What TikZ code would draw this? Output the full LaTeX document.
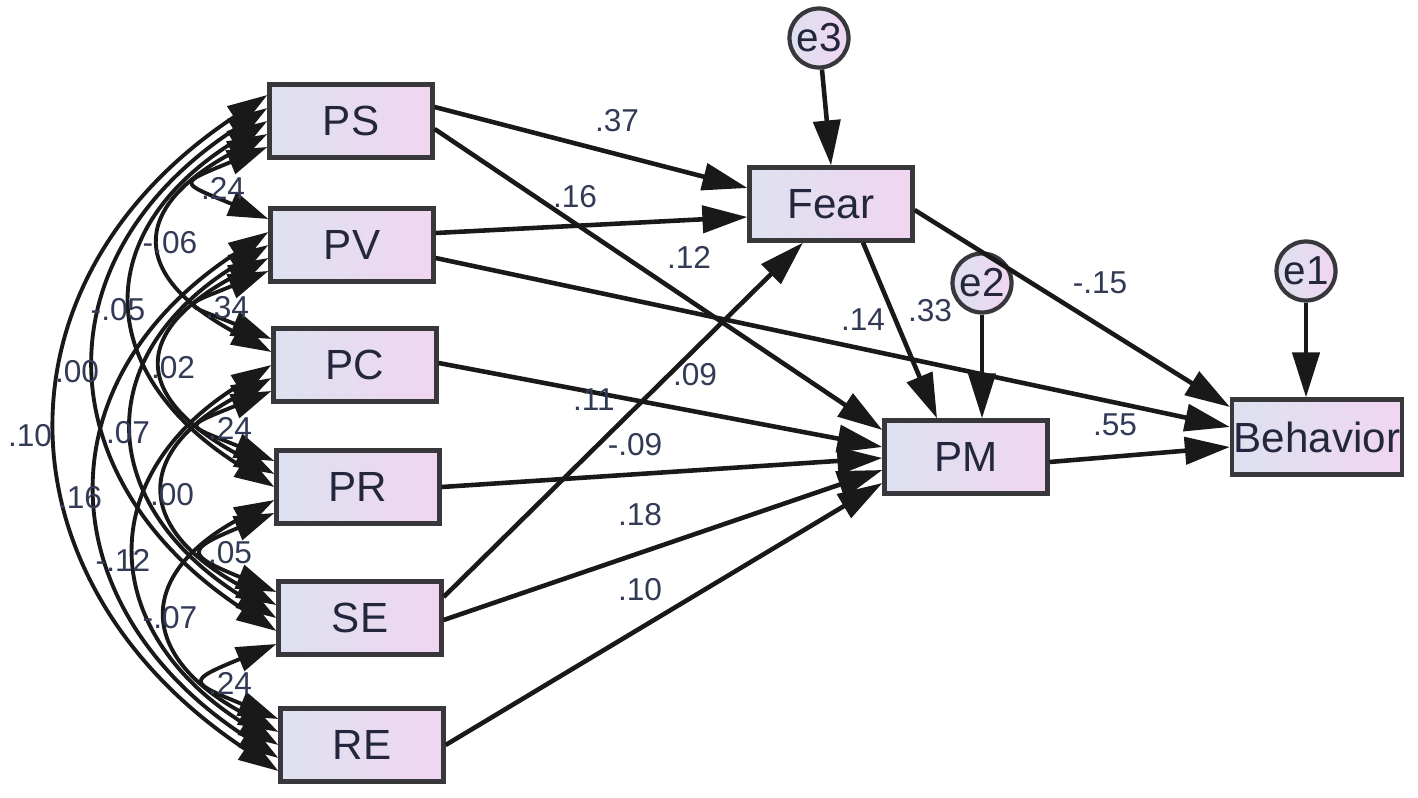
\documentclass[tikz,border=0pt]{standalone}
\usepackage{fontspec}
\setmainfont{Liberation Sans}
\usepackage{xcolor}
\usepackage{tikz}
\usetikzlibrary{arrows.meta, positioning, calc}
\definecolor{boxleft}{RGB}{221,225,240}
\definecolor{boxright}{RGB}{241,214,241}
\definecolor{edgegray}{RGB}{55,55,60}
\definecolor{txtnavy}{RGB}{35,38,60}
\definecolor{coefcol}{RGB}{50,58,85}
\tikzstyle{var} = [rectangle, minimum width=1.63cm, minimum height=0.73cm, inner sep=0pt, draw=edgegray, line width=1.2pt, left color=boxleft, right color=boxright, text=txtnavy, font=\fontsize{12}{14}\selectfont]
\tikzstyle{err} = [circle, minimum size=0.59cm, inner sep=0pt, draw=edgegray, line width=1.2pt, left color=boxleft, right color=boxright, text=txtnavy, font=\fontsize{11.5}{13}\selectfont]
\tikzstyle{reg} = [line width=1.3pt, draw=black!90, -{Triangle[length=4.5mm,width=2.7mm]}]
\tikzstyle{cov} = [line width=1.1pt, draw=black!90, {Triangle[length=4mm,width=2.5mm]}-{Triangle[length=4mm,width=2.5mm]}]
\tikzstyle{coef} = [inner sep=1pt, text=coefcol, font=\fontsize{9}{10}\selectfont]

\begin{document}
\begin{tikzpicture}
      \useasboundingbox (0,0) rectangle (14.18,-7.97);

      % Exogenous variables
      \node[var] (PS) at (3.51,-1.21) {PS};
      \node[var] (PV) at (3.52,-2.45) {PV};
      \node[var] (PC) at (3.55,-3.65) {PC};
      \node[var] (PR) at (3.58,-4.87) {PR};
      \node[var] (SE) at (3.60,-6.18) {SE};
      \node[var] (RE) at (3.62,-7.45) {RE};

      % Mediators and outcome
      \node[var] (Fear) at (8.31,-2.04) {Fear};
      \node[var] (PM) at (9.66,-4.57) {PM};
      \node[var, minimum width=1.70cm, minimum height=0.75cm] (Beh) at (13.17,-4.37) {Behavior};

      % Error terms
      \node[err] (e3) at (8.19,-0.38) {e3};
      \node[err] (e2) at (9.82,-2.83) {e2};
      \node[err] (e1) at (13.06,-2.71) {e1};

      % Covariances between exogenous variables
      \draw[cov] ([yshift=-2.6mm]PS.west) .. controls +(-0.9,-0.37) and +(-0.9,0.37) .. ([yshift=2.6mm]PV.west);
      \draw[cov] ([yshift=-1.3mm]PS.west) .. controls +(-1.4,-0.75) and +(-1.4,0.75) .. ([yshift=1.3mm]PC.west);
      \draw[cov] (PS.west) .. controls +(-1.8,-1.12) and +(-1.8,1.12) .. (PR.west);
      \draw[cov] ([yshift=1.3mm]PS.west) .. controls +(-2.3,-1.5) and +(-2.3,1.5) .. ([yshift=-1.3mm]SE.west);
      \draw[cov] ([yshift=2.6mm]PS.west) .. controls +(-2.83,-1.87) and +(-2.83,1.87) .. ([yshift=-2.6mm]RE.west);
      \draw[cov] ([yshift=-2.6mm]PV.west) .. controls +(-0.9,-0.37) and +(-0.9,0.37) .. ([yshift=2.6mm]PC.west);
      \draw[cov] ([yshift=-1.3mm]PV.west) .. controls +(-1.4,-0.75) and +(-1.4,0.75) .. ([yshift=1.3mm]PR.west);
      \draw[cov] (PV.west) .. controls +(-1.8,-1.12) and +(-1.8,1.12) .. (SE.west);
      \draw[cov] ([yshift=1.3mm]PV.west) .. controls +(-2.3,-1.5) and +(-2.3,1.5) .. ([yshift=-1.3mm]RE.west);
      \draw[cov] ([yshift=-2.6mm]PC.west) .. controls +(-0.9,-0.37) and +(-0.9,0.37) .. ([yshift=2.6mm]PR.west);
      \draw[cov] ([yshift=-1.3mm]PC.west) .. controls +(-1.4,-0.75) and +(-1.4,0.75) .. ([yshift=1.3mm]SE.west);
      \draw[cov] (PC.west) .. controls +(-1.8,-1.12) and +(-1.8,1.12) .. (RE.west);
      \draw[cov] ([yshift=-2.6mm]PR.west) .. controls +(-0.9,-0.37) and +(-0.9,0.37) .. ([yshift=2.6mm]SE.west);
      \draw[cov] ([yshift=-1.3mm]PR.west) .. controls +(-1.4,-0.75) and +(-1.4,0.75) .. ([yshift=1.3mm]RE.west);
      \draw[cov] ([yshift=-2.6mm]SE.west) .. controls +(-0.9,-0.37) and +(-0.9,0.37) .. ([yshift=2.6mm]RE.west);

      % Covariance estimates
      \node[coef] (rPSPV) at (2.23,-1.88) {.24};
      \node[coef] (rPSPC) at (1.70,-2.43) {-.06};
      \node[coef] (rPSPR) at (1.18,-3.10) {-.05};
      \node[coef] (rPSSE) at (0.77,-3.72) {.00};
      \node[coef] (rPSRE) at (0.30,-4.36) {.10};
      \node[coef] (rPVPC) at (2.27,-3.08) {.34};
      \node[coef] (rPVPR) at (1.73,-3.68) {.02};
      \node[coef] (rPVSE) at (1.28,-4.33) {.07};
      \node[coef] (rPVRE) at (0.80,-4.98) {.16};
      \node[coef] (rPCPR) at (2.30,-4.28) {.24};
      \node[coef] (rPCSE) at (1.72,-4.95) {.00};
      \node[coef] (rPCRE) at (1.23,-5.60) {-.12};
      \node[coef] (rPRSE) at (2.30,-5.53) {.05};
      \node[coef] (rPRRE) at (1.70,-6.18) {-.07};
      \node[coef] (rSERE) at (2.30,-6.83) {.24};

      % Regression paths
      \draw[reg] ([yshift=1.4mm]PS.east) -- ([yshift=1.6mm]Fear.west);
      \draw[reg] ([yshift=-0.8mm]PS.east) -- ([yshift=2.7mm]PM.west);
      \draw[reg] ([yshift=1.2mm]PV.east) -- ([yshift=-1.3mm]Fear.west);
      \draw[reg] ([yshift=-1.3mm]PV.east) -- ([yshift=1mm]Beh.west);
      \draw[reg] ([yshift=0.2mm]PC.east) -- ([yshift=1mm]PM.west);
      \draw[reg] (PR.east) -- ([yshift=-0.1mm]PM.west);
      \draw[reg] ([yshift=2.1mm]SE.east) -- ([xshift=-2.8mm]Fear.south);
      \draw[reg] ([yshift=-0.2mm]SE.east) -- ([yshift=-1.3mm]PM.west);
      \draw[reg] (RE.east) -- ([yshift=-2.6mm]PM.west);
      \draw[reg] ([yshift=-0.6mm]Fear.east) -- ([yshift=3mm]Beh.west);
      \draw[reg] ([xshift=3.2mm]Fear.south) -- ([xshift=-2.9mm]PM.north);
      \draw[reg] ([yshift=-0.5mm]PM.east) -- ([yshift=-1mm]Beh.west);
      \draw[reg] (e3) -- (Fear.north);
      \draw[reg] (e2) -- (e2.south |- PM.north);
      \draw[reg] (e1) -- (e1.south |- Beh.north);

      % Path estimates
      \node[coef] (bPSFear) at (6.17,-1.21) {.37};
      \node[coef] (bPVFear) at (5.75,-1.97) {.16};
      \node[coef] (bPSPM) at (6.89,-2.57) {.12};
      \node[coef] (bPVBeh) at (8.63,-3.20) {.14};
      \node[coef] (bFearPM) at (9.30,-3.11) {.33};
      \node[coef] (bFearBeh) at (11.00,-2.83) {-.15};
      \node[coef] (bSEFear) at (6.95,-3.75) {.09};
      \node[coef] (bPCPM) at (5.94,-4.00) {.11};
      \node[coef] (bPRPM) at (6.35,-4.45) {-.09};
      \node[coef] (bSEPM) at (6.40,-5.15) {.18};
      \node[coef] (bREPM) at (6.40,-5.90) {.10};
      \node[coef] (bPMBeh) at (11.15,-4.25) {.55};
    \end{tikzpicture}
\end{document}
